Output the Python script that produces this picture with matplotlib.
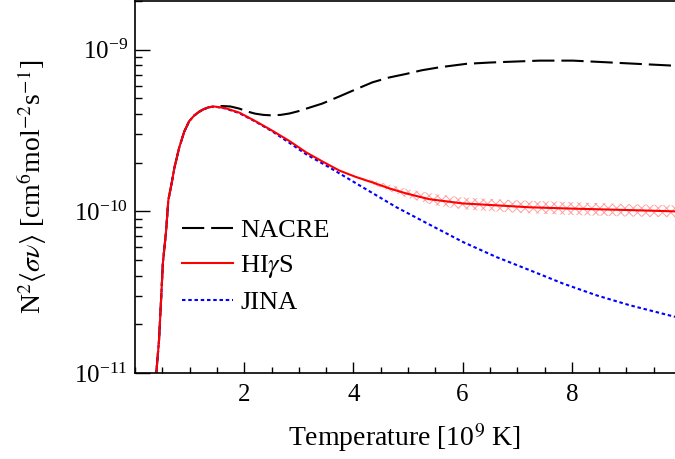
import matplotlib
matplotlib.use('Agg')
import matplotlib.pyplot as plt
from matplotlib.ticker import FixedLocator, MultipleLocator, LogLocator, LogFormatterSciNotation, NullFormatter

plt.rcParams['font.family'] = 'Liberation Serif'
plt.rcParams['mathtext.fontset'] = 'stix'
plt.rcParams['lines.scale_dashes'] = False
plt.rcParams['hatch.linewidth'] = 0.7

# rising part shared by all three rates
x_rise = [0.39, 0.44, 0.48, 0.51, 0.57, 0.61, 0.68, 0.72, 0.81, 0.90, 0.99,
          1.08, 1.17, 1.25, 1.35, 1.45]
y_rise = [1.0e-11, 1.6e-11, 2.94e-11, 4.77e-11, 7.6e-11, 1.17e-10, 1.55e-10,
          1.85e-10, 2.48e-10, 3.1e-10, 3.6e-10, 3.9e-10, 4.12e-10, 4.27e-10,
          4.40e-10, 4.45e-10]

# NACRE
x_nacre = [1.60, 1.75, 1.91, 2.05, 2.2, 2.35, 2.51, 2.67, 2.83, 3.0, 3.14,
           3.43, 3.74, 4.0, 4.35, 4.65, 4.97, 5.25, 5.58, 6.07, 6.5, 6.81,
           7.41, 8.02, 8.64, 9.25, 9.89]
y_nacre = [4.48e-10, 4.45e-10, 4.32e-10, 4.15e-10, 4.02e-10, 3.95e-10, 3.92e-10,
           3.95e-10, 4.03e-10, 4.17e-10, 4.32e-10, 4.64e-10, 5.13e-10, 5.6e-10,
           6.28e-10, 6.72e-10, 7.08e-10, 7.45e-10, 7.78e-10, 8.17e-10, 8.32e-10,
           8.4e-10, 8.55e-10, 8.55e-10, 8.35e-10, 8.15e-10, 7.95e-10]

# HIgS
x_higs = [1.65, 1.91, 2.2, 2.51, 2.83, 3.14, 3.45, 3.74, 4.05, 4.35, 4.65,
          4.97, 5.39, 6.0, 6.62, 7.23, 8.02, 9.0, 9.9]
y_higs = [4.35e-10, 4.08e-10, 3.62e-10, 3.16e-10, 2.72e-10, 2.31e-10, 2.02e-10,
          1.79e-10, 1.63e-10, 1.51e-10, 1.39e-10, 1.29e-10, 1.19e-10, 1.12e-10,
          1.09e-10, 1.06e-10, 1.04e-10, 1.02e-10, 1.0e-10]

# HIgS uncertainty band
x_band = [4.0, 4.5, 5.0, 5.5, 6.0, 7.0, 8.0, 9.0, 9.9]
lo_band = [1.65e-10, 1.40e-10, 1.21e-10, 1.09e-10, 1.03e-10, 0.98e-10, 0.95e-10,
           0.93e-10, 0.92e-10]
hi_band = [1.67e-10, 1.51e-10, 1.37e-10, 1.28e-10, 1.22e-10, 1.17e-10, 1.14e-10,
           1.11e-10, 1.09e-10]

# JINA
x_jina = [1.65, 1.91, 2.2, 2.51, 2.83, 3.14, 3.56, 4.17, 4.79, 5.39, 6.01, 6.62,
          7.23, 7.84, 8.45, 9.06, 9.89]
y_jina = [4.33e-10, 4.05e-10, 3.6e-10, 3.13e-10, 2.65e-10, 2.25e-10, 1.87e-10,
          1.41e-10, 1.06e-10, 8.3e-11, 6.46e-11, 5.22e-11, 4.33e-11, 3.58e-11,
          3.03e-11, 2.63e-11, 2.23e-11]

fig = plt.figure(figsize=(6.75, 4.59), dpi=100)
ax = fig.add_axes([0.2, 0.187, 0.8, 0.811])

ax.fill_between(x_band, lo_band, hi_band, facecolor='none', edgecolor='#ffa0a0',
                hatch='xxxx', linewidth=0)

ax.plot(x_rise + x_nacre, y_rise + y_nacre, color='black', lw=1.5,
        dashes=(16, 5), label='NACRE')
ax.plot(x_rise + x_jina, y_rise + y_jina, color='blue', lw=1.5,
        dashes=(2.5, 2), label='JINA')
ax.plot(x_rise + x_higs, y_rise + y_higs, color='red', lw=1.5,
        label=r'HI$\gamma$S')

ax.set_yscale('log')
ax.set_xlim(0, 9.89)
ax.set_ylim(1e-11, 2.0e-9)

ax.xaxis.set_major_locator(FixedLocator([2, 4, 6, 8]))
ax.xaxis.set_minor_locator(MultipleLocator(0.5))
ax.yaxis.set_major_locator(LogLocator(base=10))
ax.yaxis.set_minor_locator(LogLocator(base=10, subs=range(2, 10)))
ax.yaxis.set_major_formatter(LogFormatterSciNotation())
ax.yaxis.set_minor_formatter(NullFormatter())
ax.tick_params(axis='both', which='both', direction='in', top=False, right=False,
               width=1, labelsize=18)
ax.tick_params(axis='x', which='major', length=8, pad=8)
ax.tick_params(axis='x', which='minor', length=4)
ax.tick_params(axis='y', which='major', length=11, pad=5)
ax.tick_params(axis='y', which='minor', length=5)
ax.spines['right'].set_visible(False)
for s in ['left', 'bottom', 'top']:
    ax.spines[s].set_linewidth(1.2)

ax.set_xlabel(r'Temperature [10$^{9}$ K]', fontsize=20, labelpad=11)
ax.set_ylabel(r'N$^{2}\langle\sigma\nu\rangle$ [cm$^{6}$mol$^{-2}$s$^{-1}$]',
              fontsize=20, labelpad=18)

h, l = ax.get_legend_handles_labels()
order = [0, 2, 1]
ax.legend([h[i] for i in order], [l[i] for i in order], loc='center left',
          bbox_to_anchor=(0.087, 0.287), frameon=False, fontsize=19,
          handlelength=1.95, handletextpad=0.25, labelspacing=0.42,
          borderpad=0, borderaxespad=0)

fig.savefig('out.png', dpi=100)
